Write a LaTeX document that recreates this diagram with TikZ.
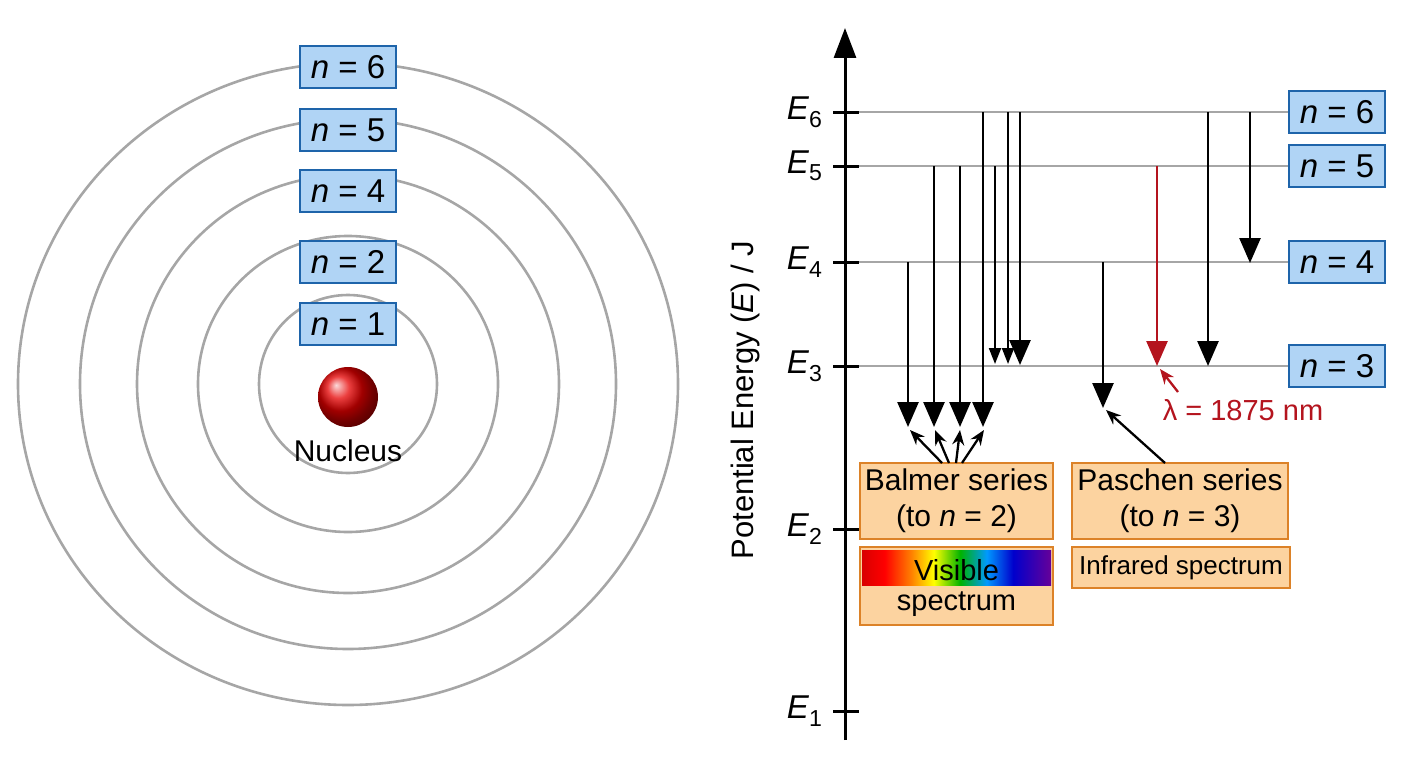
\documentclass[tikz,border=0pt]{standalone}
\usepackage{fontspec}
\setmainfont{Liberation Sans}
\usetikzlibrary{arrows.meta}
\definecolor{bluebox}{RGB}{176,212,245}
\definecolor{blueedge}{RGB}{30,100,170}
\definecolor{orbox}{RGB}{252,211,160}
\definecolor{oredge}{RGB}{220,130,40}
\definecolor{lambdared}{RGB}{180,20,30}
\pgfdeclarehorizontalshading{spec}{100bp}{color(0bp)=(red!85!black); color(25bp)=(red!85!black); color(31bp)=(red); color(38bp)=(orange); color(44bp)=(yellow); color(51bp)=(green!70!black); color(58bp)=(cyan!60!blue); color(65bp)=(blue!80!black); color(75bp)=(violet!80!blue); color(100bp)=(violet!80!blue)}
\newcommand{\nn}{\textit{n}}
\begin{document}
\begin{tikzpicture}[x=1pt,y=-1pt,
  orbit/.style={draw=black!35,line width=2.6pt},
  nbox/.style={draw=blueedge,fill=bluebox,line width=2pt,minimum width=96pt,minimum height=42pt,font=\fontsize{33}{38}\selectfont,inner sep=0pt},
  obox/.style={draw=oredge,fill=orbox,line width=2pt,font=\fontsize{30}{36}\selectfont,align=center,inner sep=0pt},
  lev/.style={draw=black!35,line width=2.4pt},
  tr/.style={-{Triangle[length=25pt,width=21pt]},line width=2.6pt},
  trs/.style={-{Triangle[length=16pt,width=12pt]},line width=2pt},
  ptr/.style={-{Stealth[length=15pt,width=12pt]},line width=2.3pt},
  elab/.style={font=\fontsize{33}{36}\selectfont,anchor=east}]
\useasboundingbox (0,0) rectangle (1408,768);
% orbits
\foreach \rx/\ry in {89/89,150/148,211/209,268/265,330/321}
  \draw[orbit] (348,384) ellipse [x radius=\rx, y radius=\ry];
\node[nbox] (o6) at (348,67) {\nn\ = 6};
\node[nbox] (o5) at (348,130) {\nn\ = 5};
\node[nbox] (o4) at (348,191) {\nn\ = 4};
\node[nbox] (o2) at (348,262) {\nn\ = 2};
\node[nbox] (o1) at (348,324) {\nn\ = 1};
\shade[ball color=red!90!black] (348,397) circle (30);
\node[font=\fontsize{30}{34}\selectfont] (nuc) at (348,451) {Nucleus};
% axis
\coordinate (ab) at (845,740);
\coordinate (at) at (845,28);
\draw[line width=3pt,-{Triangle[length=30pt,width=22pt]}] (ab) -- (at);
\node[rotate=90,font=\fontsize{31}{36}\selectfont] (alab) at (745,400) {Potential Energy (\textit{E}) / J};
\foreach \i/\y in {6/112,5/166,4/262,3/366,2/529,1/711}{
  \draw[line width=3pt] (833,\y) -- (859,\y);
  \node[elab] (e\i) at (826,\y) {\textit{E}\textsubscript{\i}};
}
% levels
\foreach \i/\y in {6/112,5/166,4/262,3/366}{
  \coordinate (l\i) at (859,\y);
  \node[nbox] (r\i) at (1337,\y) {\nn\ = \i};
  \draw[lev] (l\i) -- (r\i.west);
}
% Balmer arrows
\foreach \x/\y in {908/262,934/166,960/166,983/112}
  \draw[tr] (\x,\y) -- (\x,427);
% Paschen transitions to n=3
\draw[trs] (995,166) -- (995,364);
\draw[trs] (1008,112) -- (1008,364);
\draw[tr] (1020,112) -- (1020,365);
\draw[tr] (1103,262) -- (1103,408);
\draw[tr,draw=lambdared,fill=lambdared] (1157,166) -- (1157,366);
\draw[tr] (1208,112) -- (1208,366);
\draw[tr] (1250,112) -- (1250,263);
% boxes
\node[obox,minimum width=193pt,minimum height=76pt] (balmer) at (956.5,501) {Balmer series\\(to \nn\ = 2)};
\node[obox,minimum width=216pt,minimum height=76pt] (paschen) at (1180,501) {Paschen series\\(to \nn\ = 3)};
\node[obox,minimum width=193pt,minimum height=78pt] (vis) at (956.5,586) {};
\shade[shading=spec] (862,550) rectangle (1051,585);
\node[font=\fontsize{29}{32}\selectfont] (vist) at (956.5,570) {Visible};
\node[font=\fontsize{29}{32}\selectfont] (spect) at (956.5,604) {spectrum};
\node[obox,minimum width=218pt,minimum height=41pt,font=\fontsize{26}{30}\selectfont] (ir) at (1181,567.5) {Infrared spectrum};
% pointers
\foreach \sx/\tx in {942/910,949/935,956/960,962/984}
  \draw[ptr] (\sx,463) -- (\tx,430);
\draw[ptr] (1165,463) -- (1106,410);
\node[font=\fontsize{29}{32}\selectfont,text=lambdared] (lam) at (1243,410) {λ = 1875 nm};
\draw[ptr,draw=lambdared,fill=lambdared] (1178,392) -- (1160,369);
\end{tikzpicture}
\end{document}
